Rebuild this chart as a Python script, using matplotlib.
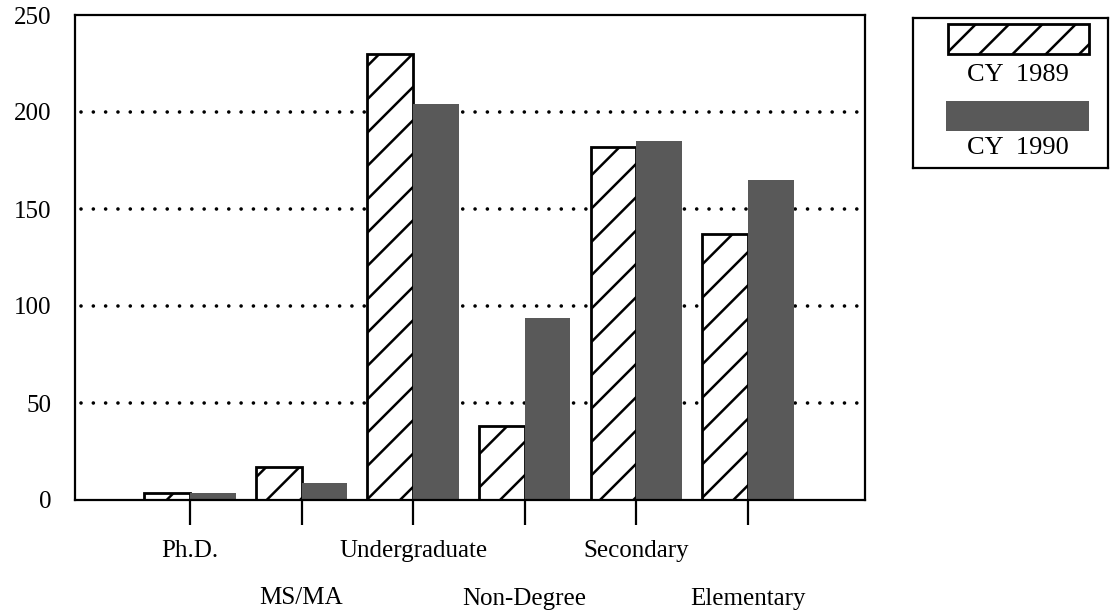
import numpy as np
import matplotlib
matplotlib.use("Agg")
import matplotlib.pyplot as plt
from matplotlib.patches import Rectangle

plt.rcParams['font.family'] = ['Liberation Serif', 'DejaVu Serif']
plt.rcParams['hatch.linewidth'] = 1.8

# enrollment by program level
categories = ["Ph.D.", "MS/MA", "Undergraduate", "Non-Degree", "Secondary", "Elementary"]
cy1989 = [3.5, 17, 230, 38, 182, 137]
cy1990 = [3.5, 9, 204, 94, 185, 165]
series_labels = ["CY  1989", "CY  1990"]
y_ticks = [0, 50, 100, 150, 200, 250]

fill_gray = "#595959"

fig = plt.figure(figsize=(11.14, 6.12), dpi=100)
ax = fig.add_axes([75 / 1114, 112 / 612, 790 / 1114, 485 / 612])

x = np.arange(len(categories))
w = 0.41

# dotted reference lines behind the bars
for v in y_ticks[1:-1]:
    ax.axhline(v, xmin=0.008, xmax=1, color="black", linewidth=2.6,
               linestyle=(0, (0.01, 3.4)), dash_capstyle="round", zorder=0)

ax.bar(x - w, cy1989, width=w, align="edge", facecolor="white",
       edgecolor="black", linewidth=2, hatch="/", zorder=2)
ax.bar(x, cy1990, width=w, align="edge", color=fill_gray, zorder=2)

ax.set_xlim(-1.03, 6.05)
ax.set_ylim(0, 250)

for s in ax.spines.values():
    s.set_linewidth(1.6)

ax.set_yticks(y_ticks)
ax.tick_params(axis="y", length=0, pad=17, labelsize=18)

# labels alternate between two rows: even ones as major ticks, odd ones as minor
ax.set_xticks(x[::2])
ax.set_xticklabels(categories[::2])
ax.set_xticks(x[1::2], minor=True)
ax.set_xticklabels(categories[1::2], minor=True)
ax.tick_params(axis="x", which="major", direction="out", length=18, width=1.6,
               pad=11, labelsize=18)
ax.tick_params(axis="x", which="minor", direction="out", length=18, width=1.6,
               pad=45, labelsize=18)

# legend with the label beneath each swatch
lax = fig.add_axes([913 / 1114, 444 / 612, 195 / 1114, 150 / 612])
lax.set_xlim(0, 1)
lax.set_ylim(1, 0)
lax.set_xticks([])
lax.set_yticks([])
for s in lax.spines.values():
    s.set_linewidth(1.6)
lax.add_patch(Rectangle((0.18, 0.04), 0.72, 0.2, facecolor="white",
                        edgecolor="black", linewidth=2, hatch="/"))
lax.text(0.54, 0.38, series_labels[0], ha="center", va="center", fontsize=19)
lax.add_patch(Rectangle((0.17, 0.55), 0.73, 0.2, facecolor=fill_gray, edgecolor="none"))
lax.text(0.54, 0.87, series_labels[1], ha="center", va="center", fontsize=19)

fig.savefig("out.png", dpi=100)
